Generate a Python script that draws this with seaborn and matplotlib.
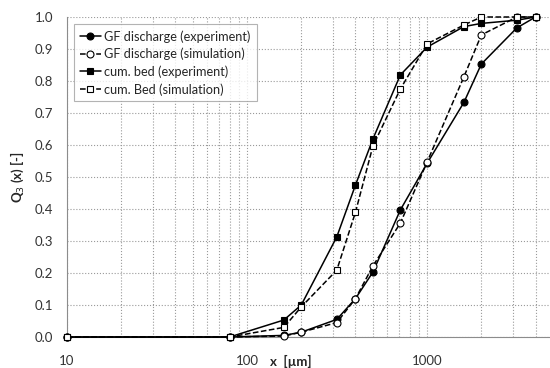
import matplotlib
matplotlib.use("Agg")
import matplotlib.pyplot as plt
import pandas as pd
import seaborn as sns
from matplotlib.ticker import LogLocator, FixedLocator, NullFormatter

# sieve sizes in µm
SIZES = [10, 80, 160, 200, 315, 400, 500, 710, 1000, 1600, 2000, 3150, 4000]

GF_EXP = [0.0, 0.0, 0.005, 0.015, 0.055, 0.12, 0.203, 0.397, 0.543, 0.733, 0.853, 0.966, 1.0]
GF_SIM = [0.0, 0.0, 0.003, 0.015, 0.045, 0.12, 0.222, 0.356, 0.547, 0.813, 0.944, 1.0, 1.0]
BED_EXP = [0.0, 0.0, 0.053, 0.10, 0.313, 0.475, 0.619, 0.819, 0.906, 0.970, 0.980, 0.990, 1.0]
BED_SIM = [0.0, 0.0, 0.030, 0.094, 0.209, 0.390, 0.597, 0.775, 0.916, 0.975, 1.0, 1.0, 1.0]

LABELS = [
    "GF discharge (experiment)",
    "GF discharge (simulation)",
    "cum. bed (experiment)",
    "cum. Bed (simulation)",
]

X_TICKS = [10, 100, 1000]
X_TICK_LABELS = ["10", "100", "1000"]
Y_TICKS = [0.0, 0.1, 0.2, 0.3, 0.4, 0.5, 0.6, 0.7, 0.8, 0.9, 1.0]

sns.set_style("white")
plt.rcParams["font.family"] = ["Lato", "DejaVu Sans"]

fig = plt.figure(figsize=(5.5, 3.68), dpi=100)
ax = fig.add_axes([67 / 550, 31 / 368, 486 / 550, 320 / 368])

series = [
    (GF_EXP, LABELS[0], "-", "o", "black"),
    (GF_SIM, LABELS[1], "--", "o", "white"),
    (BED_EXP, LABELS[2], "-", "s", "black"),
    (BED_SIM, LABELS[3], "--", "s", "white"),
]
for vals, label, ls, mk, face in series:
    df = pd.DataFrame({"x": SIZES, "q3": vals})
    sns.lineplot(
        data=df, x="x", y="q3", ax=ax, color="black", linestyle=ls,
        linewidth=1.1, marker=mk, markersize=5, markerfacecolor=face,
        markeredgecolor="black", markeredgewidth=0.8, label=label,
        clip_on=False, zorder=3,
    )

ax.set_xscale("log")
ax.set_xlim(10, 5000)
ax.set_ylim(0, 1.0)
ax.xaxis.set_major_locator(FixedLocator(X_TICKS))
ax.set_xticklabels(X_TICK_LABELS)
ax.xaxis.set_minor_locator(LogLocator(base=10, subs=range(2, 10)))
ax.xaxis.set_minor_formatter(NullFormatter())
ax.set_yticks(Y_TICKS)
ax.set_yticklabels([f"{v:.1f}" for v in Y_TICKS])

ax.grid(True, which="both", axis="x", color="#9a9a9a", linestyle=":", linewidth=0.8)
ax.grid(True, which="major", axis="y", color="#9a9a9a", linestyle=":", linewidth=0.8)
for side in ["top", "right"]:
    ax.spines[side].set_visible(False)
for side in ["left", "bottom"]:
    ax.spines[side].set_color("#8c8c8c")
    ax.spines[side].set_linewidth(0.8)
ax.tick_params(axis="both", which="major", labelsize=9.5, colors="#333333",
               length=4, color="#8c8c8c", pad=6)
ax.tick_params(axis="x", which="minor", length=0)
ax.tick_params(axis="x", which="major", pad=9)

ax.set_xlabel("x  [µm]", fontsize=9.5, fontweight="bold", labelpad=-2)
ax.xaxis.set_label_coords(0.46, -0.055)
ax.set_ylabel("Q$_3$ (x) [-]", fontsize=9.5, fontweight="bold", labelpad=6)

leg = ax.legend(loc="upper left", bbox_to_anchor=(0.01, 0.985), fontsize=9.2,
                frameon=True, fancybox=False, handlelength=1.6, handletextpad=0.3,
                borderpad=0.45, labelspacing=0.4, borderaxespad=0.2)
leg.get_frame().set_edgecolor("#a0a0a0")
leg.get_frame().set_linewidth(0.8)
leg.set_zorder(5)

fig.savefig("out.png", dpi=100)
